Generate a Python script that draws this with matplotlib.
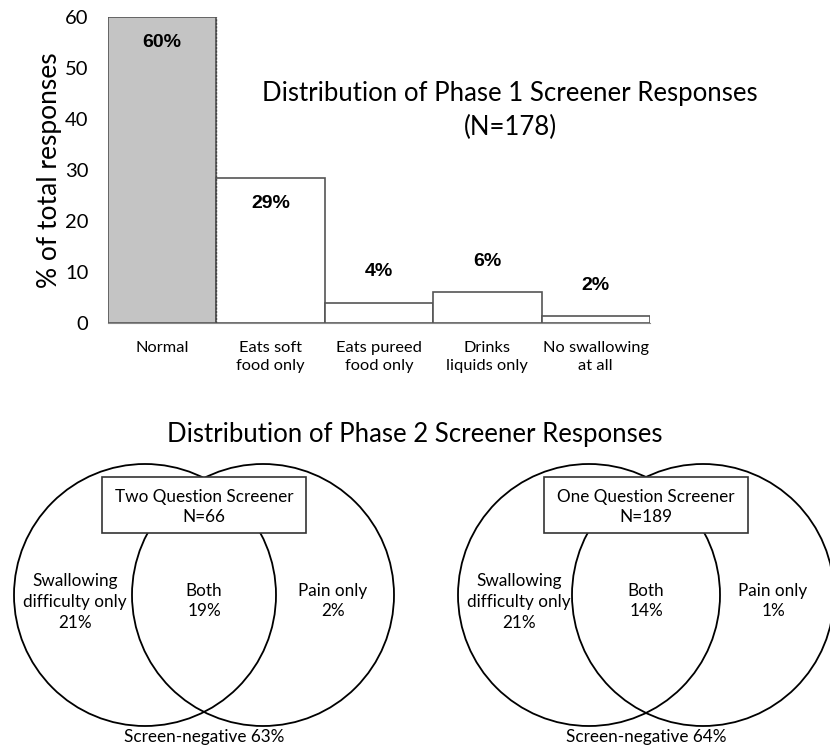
import matplotlib
matplotlib.use("Agg")
import matplotlib.pyplot as plt
from matplotlib.patches import Circle, Rectangle

plt.rcParams['font.family'] = ['Lato', 'DejaVu Sans']

# phase 1 screener
categories = ["Normal", "Eats soft\nfood only", "Eats pureed\nfood only",
              "Drinks\nliquids only", "No swallowing\nat all"]
values = [60, 28.5, 4, 6.1, 1.4]
value_labels = ["60%", "29%", "4%", "6%", "2%"]

# phase 2 screener (two venn diagrams)
venn_titles = ["Two Question Screener\nN=66", "One Question Screener\nN=189"]
swallow_only = [21, 21]
both = [19, 14]
pain_only = [2, 1]
screen_negative = [63, 64]

W, H = 830, 746
fig = plt.figure(figsize=(W / 100, H / 100), dpi=100)

# ---- bar chart
ax = fig.add_axes([108 / W, 1 - 323 / H, (650 - 108) / W, (323 - 17) / H])
x = list(range(len(values)))
colors = ["#c4c4c4"] + ["white"] * (len(values) - 1)
ax.bar(x, values, width=1.0, color=colors, edgecolor="#555555", linewidth=1.2)
ax.plot([0.5, 0.5], [0, values[0]], color="#444444", lw=1.0, ls=(0, (1.5, 1)))
for xi, v, lab in zip(x, values, value_labels):
    y = v - 5 if v > 20 else v + 6
    ax.text(xi, y, lab, ha="center", va="center", fontsize=14,
            fontweight="bold", family="Liberation Sans")
ax.set_xlim(-0.5, 4.5)
ax.set_ylim(0, 60)
ax.set_yticks(range(0, 61, 10))
ax.tick_params(axis="y", length=0, labelsize=14.5, pad=14)
ax.set_xticks(x)
ax.set_xticklabels(categories, fontsize=11.8, linespacing=1.4)
ax.tick_params(axis="x", length=0, pad=13)
for s in ["top", "right", "left"]:
    ax.spines[s].set_visible(False)
ax.spines["bottom"].set_color("#888888")
ax.set_ylabel("% of total responses", fontsize=19, labelpad=2)
ax.patch.set_alpha(0)

fig.text(510 / W, 1 - 93 / H, "Distribution of Phase 1 Screener Responses",
         ha="center", va="center", fontsize=18.5)
fig.text(510 / W, 1 - 127 / H, "(N=178)", ha="center", va="center", fontsize=18.5)

# ---- venn diagrams, pixel coordinates
vx = fig.add_axes([0, 0, 1, 1])
vx.set_xlim(0, W)
vx.set_ylim(H, 0)
vx.axis("off")

fig.text(415 / W, 1 - 434 / H, "Distribution of Phase 2 Screener Responses",
         ha="center", va="center", fontsize=18.5)

r = 131
cy = 595
fs = 12.3
for i, (cl, cr) in enumerate([(145, 263), (589, 703)]):
    for c in (cl, cr):
        vx.add_patch(Circle((c, cy), r, fill=False, ec="black", lw=1.3))
    mid = (cl + cr) / 2
    vx.add_patch(Rectangle((mid - 102, 477), 204, 56, fc="white", ec="#333333", lw=1.2))
    vx.text(mid, 507, venn_titles[i], ha="center", va="center", fontsize=fs,
            linespacing=1.3)
    vx.text(cl - 70, 602, "Swallowing\ndifficulty only\n%d%%" % swallow_only[i],
            ha="center", va="center", fontsize=fs, linespacing=1.35)
    vx.text(mid, 601, "Both\n%d%%" % both[i], ha="center", va="center",
            fontsize=fs, linespacing=1.35)
    vx.text(cr + 70, 601, "Pain only\n%d%%" % pain_only[i], ha="center",
            va="center", fontsize=fs, linespacing=1.35)
    vx.text(mid, 737, "Screen-negative %d%%" % screen_negative[i], ha="center",
            va="center", fontsize=fs)

fig.savefig("out.png", dpi=100)
